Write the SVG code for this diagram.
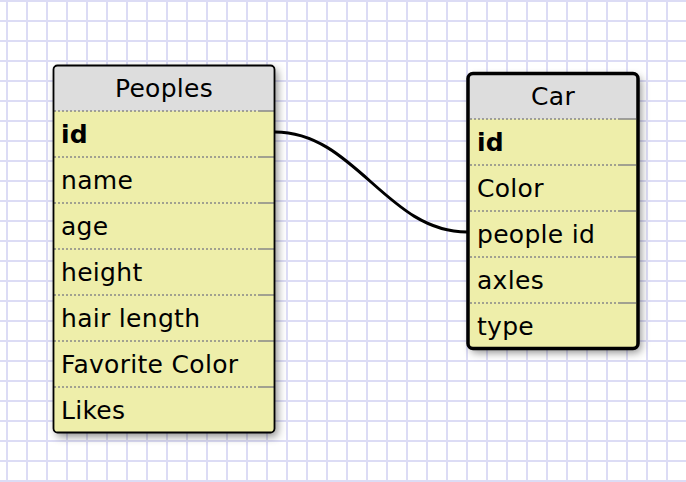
<svg xmlns="http://www.w3.org/2000/svg" width="686" height="482" viewBox="0 0 686 482">
<defs>
<pattern id="grid" width="20" height="20" patternUnits="userSpaceOnUse" x="0" y="0">
<rect x="0" y="0" width="20" height="20" fill="#ffffff"/>
<rect x="6" y="0" width="2" height="20" fill="#dcdcf5"/>
<rect x="0" y="0" width="20" height="2" fill="#dcdcf5"/>
</pattern>
<filter id="shadow" x="-10%" y="-10%" width="130%" height="130%">
<feDropShadow dx="3" dy="4" stdDeviation="4" flood-color="#000" flood-opacity="0.45"/>
</filter>
</defs>
<style>
.body{fill:#eeeeaa;}
.head{fill:#dddddd;}
.border{fill:none;stroke:#000;}
.sep{stroke:#888888;stroke-width:1.5;stroke-dasharray:2 2;fill:none;}
.sepend{stroke:#888888;stroke-width:1.5;fill:none;}
text{font-family:"DejaVu Sans","Liberation Sans",sans-serif;font-size:25px;letter-spacing:0.3px;fill:#000;}
.title{text-anchor:middle;}
.key{font-weight:bold;}
.conn{fill:none;stroke:#000;stroke-width:3;}
</style>
<rect x="0" y="0" width="686" height="482" fill="url(#grid)"/>
<g id="connectors">
<path class="conn" d="M275,132 C355,132 387,232 467,232"/>
</g>
<g id="peoples">
<rect class="body" x="53.5" y="65.5" width="221" height="367" rx="4" filter="url(#shadow)"/>
<path class="head" d="M53.5,111 V69.5 Q53.5,65.5 57.5,65.5 H270.5 Q274.5,65.5 274.5,69.5 V111 Z"/>
<g>
<path class="sep" d="M54,111 H258 M54,157 H258 M54,203 H258 M54,249 H258 M54,295 H258 M54,341 H258 M54,387 H258"/>
<path class="sepend" d="M258,111 H274 M258,157 H274 M258,203 H274 M258,249 H274 M258,295 H274 M258,341 H274 M258,387 H274"/>
</g>
<rect class="border" x="53.5" y="65.5" width="221" height="367" rx="4" stroke-width="1.8"/>
<text class="title" x="164" y="97">Peoples</text>
<text class="key" x="61" y="143">id</text>
<text x="61" y="189">name</text>
<text x="61" y="235">age</text>
<text x="61" y="281">height</text>
<text x="61" y="327">hair length</text>
<text x="61" y="373">Favorite Color</text>
<text x="61" y="419">Likes</text>
</g>
<g id="car">
<rect class="body" x="468" y="73.5" width="170" height="275" rx="5" filter="url(#shadow)"/>
<path class="head" d="M468,119 V78.5 Q468,73.5 473,73.5 H633 Q638,73.5 638,78.5 V119 Z"/>
<g>
<path class="sep" d="M470,119 H618 M470,165 H618 M470,211 H618 M470,257 H618 M470,303 H618"/>
<path class="sepend" d="M618,119 H636 M618,165 H636 M618,211 H636 M618,257 H636 M618,303 H636"/>
</g>
<rect class="border" x="468" y="73.5" width="170" height="275" rx="5" stroke-width="3.5"/>
<text class="title" x="553" y="105">Car</text>
<text class="key" x="477" y="151">id</text>
<text x="477" y="197">Color</text>
<text x="477" y="243">people id</text>
<text x="477" y="289">axles</text>
<text x="477" y="335">type</text>
</g>
</svg>
